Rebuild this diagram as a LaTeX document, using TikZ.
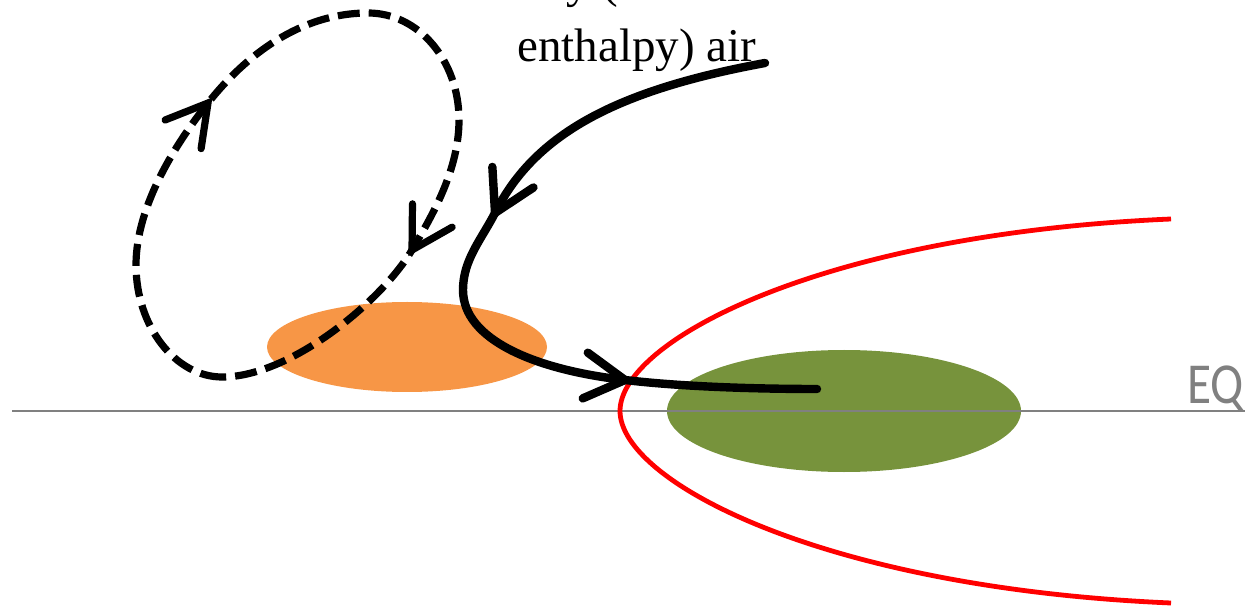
\documentclass[tikz,border=0pt]{standalone}
\usepackage{fontspec}
\setmainfont{Liberation Serif}
\newfontfamily\eqfont[FakeStretch=0.85]{Carlito}
\usetikzlibrary{shapes.geometric,decorations.markings}

\definecolor{warmorange}{RGB}{247,150,70}
\definecolor{olivegreen}{RGB}{119,147,60}
\definecolor{eqgray}{RGB}{128,128,128}
\definecolor{boundred}{RGB}{255,0,0}

\tikzset{
  blob/.style={ellipse, draw=none, inner sep=0pt},
  flowline/.style={black, line width=4.2pt, line cap=round, line join=round},
  loopline/.style={black, line width=3.6pt, dash pattern=on 11pt off 4.5pt, line join=round},
  barbtip/.style={postaction={decorate, decoration={markings,
      mark=at position 0.9999 with {\draw[solid, black, line width=#1, line cap=round, line join=miter]
        (-20pt,11.5pt) -- (0pt,0pt) -- (-20pt,-11.5pt);}}}},
}

\begin{document}
\begin{tikzpicture}[x=0.5pt, y=-0.5pt]
\useasboundingbox (0,0) rectangle (1245,608);

% convective (orange) and cold (green) regions
\node[blob, fill=warmorange, minimum width=140pt, minimum height=45pt] (warm) at (407,347) {};
\node[blob, fill=olivegreen, minimum width=177pt, minimum height=61pt] (cold) at (844,411) {};

% equator
\coordinate (eqW) at (12,411);
\coordinate (eqE) at (1245,411);
\draw[eqgray, line width=1.4pt] (eqW) -- (eqE);
\node[anchor=base west, inner sep=0pt, text=eqgray, font=\eqfont\fontsize{29}{34}\selectfont] (eqlabel) at (1187,403) {EQ};

% boundary curve
\coordinate (bTop) at (1171,219);
\coordinate (bVertex) at (620,411);
\coordinate (bBot) at (1171,603);
\draw[boundred, line width=2.4pt]
  (bTop) .. controls (821,234) and (620,341) .. (bVertex)
         .. controls (620,481) and (821,588) .. (bBot);

% dashed overturning loop
\coordinate (lBot) at (222,377);
\coordinate (lLeft) at (136,265);
\coordinate (lTip1) at (208,103);
\coordinate (lTop) at (368,13);
\coordinate (lRight) at (459,120);
\coordinate (lTip2) at (412,250);
\draw[loopline]
  (lBot) .. controls (176,377) and (136,327) .. (lLeft)
         .. controls (136,205) and (177,142) .. (lTip1)
         .. controls (245,56) and (300,13) .. (lTop)
         .. controls (419,13) and (459,61) .. (lRight)
         .. controls (459,170) and (432,216) .. (lTip2)
         .. controls (381,302) and (290,377) .. (lBot);
\path[barbtip=3.6pt] (lLeft) .. controls (136,205) and (177,142) .. (lTip1);
\path[barbtip=3.6pt] (lRight) .. controls (459,170) and (432,216) .. (lTip2);

% solid inflow path
\coordinate (fStart) at (765,63);
\coordinate (fTip1) at (495,213);
\coordinate (fLeft) at (463,290);
\coordinate (fTip2) at (625,380);
\coordinate (fEnd) at (817,389);
\draw[flowline]
  (fStart) .. controls (618,90) and (535,133) .. (fTip1)
           .. controls (481,240) and (463,260) .. (fLeft)
           .. controls (463,340) and (536,370) .. (fTip2)
           .. controls (684,387) and (760,389) .. (fEnd);
\path[barbtip=4.2pt] (fStart) .. controls (618,90) and (535,133) .. (fTip1);
\path[barbtip=4.2pt] (fLeft) .. controls (463,340) and (536,370) .. (fTip2);

% label of the inflowing air
\node[anchor=base west, inner sep=0pt, font=\fontsize{23.5}{32}\selectfont] (airlabel) at (517,62)
  {\begin{tabular}[b]{@{}l@{}}Dry (low moist static\\enthalpy) air\end{tabular}};
\end{tikzpicture}
\end{document}
